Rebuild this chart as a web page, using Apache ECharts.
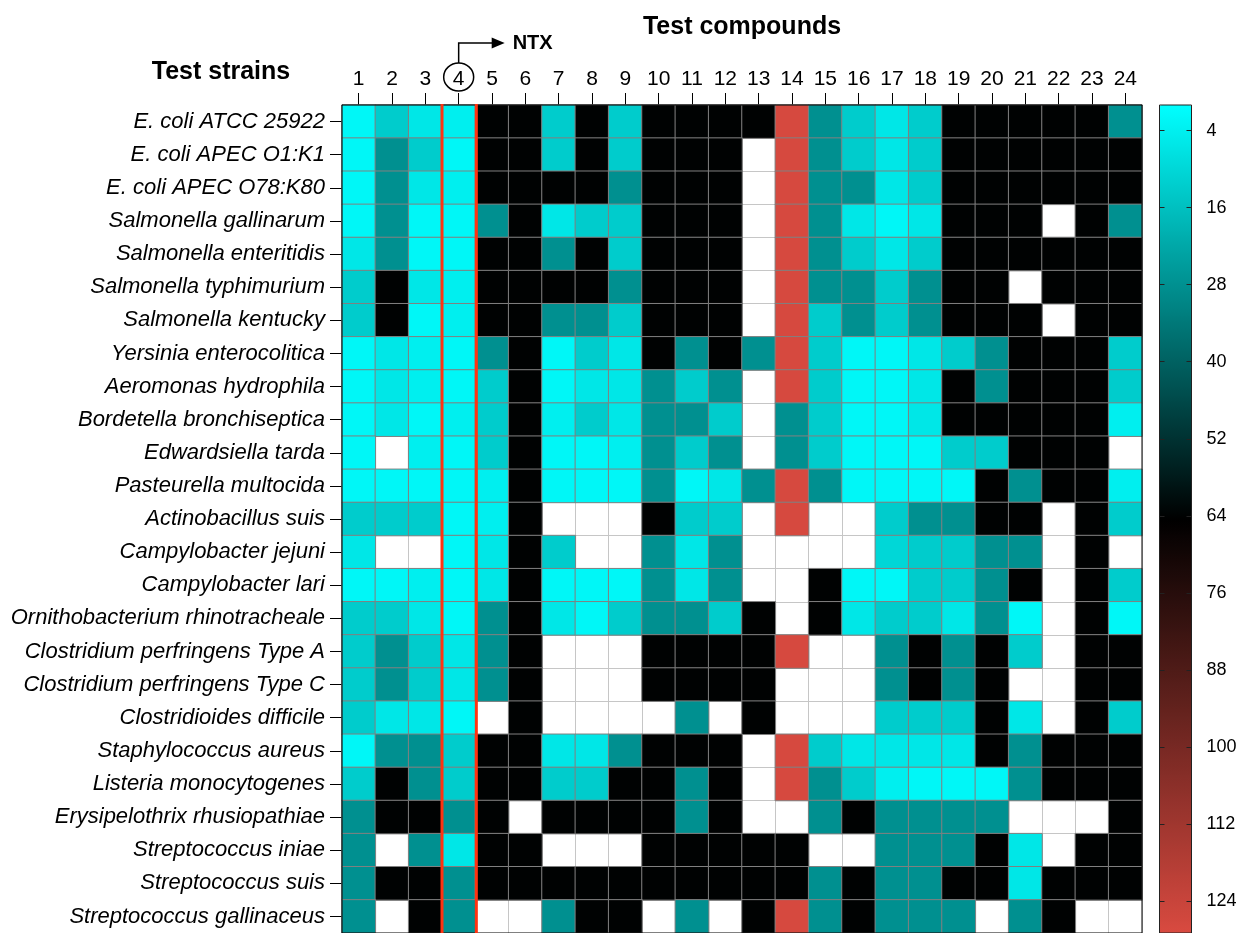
<!DOCTYPE html>
<html>
<head>
<meta charset="utf-8">
<title>Test strains x test compounds</title>
<script src="https://cdn.jsdelivr.net/npm/echarts@6/dist/echarts.min.js"></script>
<style>
  html, body { margin: 0; padding: 0; background: #fff; }
  #main { width: 1241px; height: 933px; }
</style>
</head>
<body>
<div id="main"></div>
<script>
var compounds = ['1', '2', '3', '4', '5', '6', '7', '8', '9', '10', '11', '12',
  '13', '14', '15', '16', '17', '18', '19', '20', '21', '22', '23', '24'];

var strains = [
  'E. coli ATCC 25922',
  'E. coli APEC O1:K1',
  'E. coli APEC O78:K80',
  'Salmonella gallinarum',
  'Salmonella enteritidis',
  'Salmonella typhimurium',
  'Salmonella kentucky',
  'Yersinia enterocolitica',
  'Aeromonas hydrophila',
  'Bordetella bronchiseptica',
  'Edwardsiella tarda',
  'Pasteurella multocida',
  'Actinobacillus suis',
  'Campylobacter jejuni',
  'Campylobacter lari',
  'Ornithobacterium rhinotracheale',
  'Clostridium perfringens Type A',
  'Clostridium perfringens Type C',
  'Clostridioides difficile',
  'Staphylococcus aureus',
  'Listeria monocytogenes',
  'Erysipelothrix rhusiopathiae',
  'Streptococcus iniae',
  'Streptococcus suis',
  'Streptococcus gallinaceus'
];

var mic = [
  [2, 13, 6, 4, 64, 64, 13, 64, 13, 64, 64, 64, 64, 128, 28, 13, 6, 13, 64, 64, 64, 64, 64, 28],
  [2, 28, 13, 2, 64, 64, 13, 64, 13, 64, 64, 64, null, 128, 28, 13, 6, 13, 64, 64, 64, 64, 64, 64],
  [2, 28, 6, 4, 64, 64, 64, 64, 28, 64, 64, 64, null, 128, 28, 28, 6, 13, 64, 64, 64, 64, 64, 64],
  [2, 28, 2, 2, 28, 64, 6, 13, 13, 64, 64, 64, null, 128, 28, 6, 2, 6, 64, 64, 64, null, 64, 28],
  [6, 28, 2, 2, 64, 64, 28, 64, 13, 64, 64, 64, null, 128, 28, 13, 6, 13, 64, 64, 64, 64, 64, 64],
  [13, 64, 6, 4, 64, 64, 64, 64, 28, 64, 64, 64, null, 128, 28, 28, 13, 28, 64, 64, null, 64, 64, 64],
  [13, 64, 2, 4, 64, 64, 28, 28, 13, 64, 64, 64, null, 128, 13, 28, 13, 28, 64, 64, 64, null, 64, 64],
  [2, 6, 4, 2, 28, 64, 2, 13, 6, 64, 28, 64, 28, 128, 13, 2, 2, 6, 13, 28, 64, 64, 64, 13],
  [2, 6, 4, 2, 13, 64, 2, 6, 6, 28, 13, 28, null, 128, 13, 2, 2, 6, 64, 28, 64, 64, 64, 13],
  [2, 6, 2, 4, 13, 64, 4, 13, 6, 28, 28, 13, null, 28, 13, 2, 2, 6, 64, 64, 64, 64, 64, 4],
  [2, null, 4, 2, 13, 64, 2, 2, 4, 28, 13, 28, null, 28, 13, 2, 2, 2, 13, 13, 64, 64, 64, null],
  [2, 2, 2, 2, 4, 64, 2, 2, 2, 28, 2, 6, 28, 128, 28, 2, 2, 2, 2, 64, 28, 64, 64, 4],
  [13, 13, 13, 2, 4, 64, null, null, null, 64, 13, 13, null, 128, null, null, 13, 28, 28, 64, 64, null, 64, 13],
  [6, null, null, 2, 6, 64, 13, null, null, 28, 6, 28, null, null, null, null, 10, 13, 13, 28, 28, null, 64, null],
  [2, 2, 4, 2, 6, 64, 2, 2, 2, 28, 6, 28, null, null, 64, 2, 2, 13, 13, 28, 64, null, 64, 13],
  [13, 13, 6, 2, 28, 64, 6, 2, 13, 28, 28, 13, 64, null, 64, 6, 13, 13, 6, 28, 2, null, 64, 2],
  [13, 28, 13, 6, 28, 64, null, null, null, 64, 64, 64, 64, 128, null, null, 28, 64, 28, 64, 13, null, 64, 64],
  [13, 28, 13, 6, 28, 64, null, null, null, 64, 64, 64, 64, null, null, null, 28, 64, 28, 64, null, null, 64, 64],
  [13, 6, 6, 2, null, 64, null, null, null, null, 28, null, 64, null, null, null, 13, 13, 13, 64, 6, null, 64, 13],
  [2, 28, 28, 13, 64, 64, 6, 6, 28, 64, 64, 64, null, 128, 13, 6, 6, 6, 6, 64, 28, 64, 64, 64],
  [13, 64, 28, 13, 64, 64, 13, 13, 64, 64, 28, 64, null, 128, 28, 13, 4, 2, 2, 2, 28, 64, 64, 64],
  [28, 64, 64, 28, 64, null, 64, 64, 64, 64, 28, 64, null, null, 28, 64, 28, 28, 28, 28, null, null, null, 64],
  [28, null, 28, 6, 64, 64, null, null, null, 64, 64, 64, 64, 64, null, null, 28, 28, 28, 64, 6, null, 64, 64],
  [28, 64, 64, 28, 64, 64, 64, 64, 64, 64, 64, 64, 64, 64, 28, 64, 28, 28, 64, 64, 6, 64, 64, 64],
  [28, null, 64, 28, null, null, 28, 64, 64, null, 28, null, 64, 128, 28, 64, 28, 28, 28, null, 28, 64, null, null]
];

var scaleTicks = [4, 16, 28, 40, 52, 64, 76, 88, 100, 112, 124];
var scaleMin = 0;
var scaleMax = 129;
var ntxIndex = 3; // compound 4 is NTX

var font = 'Liberation Sans, Arial, Helvetica, sans-serif';

var cells = [];
for (var i = 0; i < strains.length; i++) {
  for (var j = 0; j < compounds.length; j++) {
    if (mic[i][j] != null) cells.push([j, i, mic[i][j]]);
  }
}

var chart = echarts.init(document.getElementById('main'));

function barAxis(position, offset, tickShow, tickInside, labelShow) {
  return {
    type: 'value', gridIndex: 1, min: scaleMin, max: scaleMax, inverse: true,
    position: position, offset: offset, z: 10,
    axisLine: { show: false },
    axisTick: { show: tickShow, inside: tickInside, length: 5, customValues: scaleTicks,
      lineStyle: { color: '#222' } },
    axisLabel: { show: labelShow, customValues: scaleTicks, fontSize: 18, color: '#000',
      margin: 15, fontFamily: font },
    splitLine: { show: false }
  };
}

var option = {
  animation: false,
  textStyle: { fontFamily: font },
  grid: [
    { left: 342, top: 105, width: 800, height: 829, show: true, z: 10,
      borderColor: '#000', borderWidth: 1, backgroundColor: 'transparent' },
    { left: 1159.5, top: 105, width: 32, height: 829, show: true, z: 10,
      borderColor: '#222', borderWidth: 1, backgroundColor: 'transparent' }
  ],
  xAxis: [
    {
      type: 'category', gridIndex: 0, data: compounds, position: 'top',
      axisLine: { show: true, lineStyle: { color: '#000' } },
      axisTick: { show: true, alignWithLabel: true, length: 12, lineStyle: { color: '#000' } },
      axisLabel: { interval: 0, fontSize: 21, color: '#000', margin: 15, fontFamily: font },
      splitLine: { show: true, interval: 0, lineStyle: { color: '#c6c6c6', width: 1 } }
    },
    { type: 'category', gridIndex: 1, data: [''], show: false }
  ],
  yAxis: [
    {
      type: 'category', gridIndex: 0, data: strains, inverse: true,
      axisLine: { show: true, lineStyle: { color: '#000' } },
      axisTick: { show: true, alignWithLabel: true, length: 12, lineStyle: { color: '#000' } },
      axisLabel: { interval: 0, fontSize: 22, fontStyle: 'italic', color: '#000', margin: 17, fontFamily: font },
      splitLine: { show: true, interval: 0, lineStyle: { color: '#c6c6c6', width: 1 } }
    },
    // colour bar: ticks on its left edge pointing in
    barAxis('left', 0, true, true, false),
    // ticks on its right edge pointing in
    barAxis('left', -32, true, false, false),
    // labels on the right
    barAxis('right', 0, false, false, true)
  ],
  visualMap: {
    type: 'continuous',
    seriesIndex: 0,
    min: scaleMin,
    max: scaleMax,
    inverse: true,
    orient: 'vertical',
    left: 1159.5,
    top: 105,
    itemWidth: 32,
    itemHeight: 829,
    padding: 0,
    calculable: false,
    hoverLink: false,
    text: null,
    showLabel: false,
    z: 1,
    inRange: { color: ['#00FFFF', '#000000', '#D94A40'] }
  },
  series: [
    {
      type: 'heatmap',
      xAxisIndex: 0,
      yAxisIndex: 0,
      data: cells,
      itemStyle: { borderColor: '#808080', borderWidth: 1 },
      emphasis: { disabled: true }
    }
  ]
};

chart.setOption(option);

// annotations placed from the axis scales
var p0 = chart.convertToPixel({ seriesIndex: 0 }, [ntxIndex, 0]);
var p1 = chart.convertToPixel({ seriesIndex: 0 }, [ntxIndex + 1, 1]);
var cellW = p1[0] - p0[0];
var cellH = p1[1] - p0[1];
var gridTop = p0[1] - cellH / 2;
var gridBottom = gridTop + cellH * strains.length;
var gridLeft = p0[0] - cellW * (ntxIndex + 0.5);
var gridCenter = gridLeft + cellW * compounds.length / 2;
var x4 = p0[0];
var redLeft = x4 - cellW / 2;
var redRight = x4 + cellW / 2;
var labelY = 77;

chart.setOption({
  graphic: [
    { type: 'line', z: 50, shape: { x1: redLeft, y1: gridTop - 1, x2: redLeft, y2: gridBottom },
      style: { stroke: '#ff3311', lineWidth: 3 } },
    { type: 'line', z: 50, shape: { x1: redRight + 1, y1: gridTop - 1, x2: redRight + 1, y2: gridBottom },
      style: { stroke: '#ff3311', lineWidth: 3 } },
    { type: 'ellipse', z: 50, shape: { cx: x4, cy: labelY, rx: 15, ry: 14 },
      style: { fill: 'none', stroke: '#000', lineWidth: 1.5 } },
    { type: 'polyline', z: 50, shape: { points: [[x4, labelY - 14], [x4, 43], [x4 + 36, 43]] },
      style: { fill: 'none', stroke: '#000', lineWidth: 1.5 } },
    { type: 'polygon', z: 50, shape: { points: [[x4 + 33, 37.5], [x4 + 46, 43], [x4 + 33, 48.5]] },
      style: { fill: '#000' } },
    { type: 'text', z: 50, x: x4 + 54, y: 43,
      style: { text: 'NTX', font: 'bold 20px ' + font, fill: '#000', verticalAlign: 'middle', align: 'left' } },
    { type: 'text', z: 50, x: gridCenter, y: 27,
      style: { text: 'Test compounds', font: 'bold 25px ' + font, fill: '#000', verticalAlign: 'middle', align: 'center' } },
    { type: 'text', z: 50, x: 221, y: 72,
      style: { text: 'Test strains', font: 'bold 25px ' + font, fill: '#000', verticalAlign: 'middle', align: 'center' } }
  ]
});
</script>
</body>
</html>
